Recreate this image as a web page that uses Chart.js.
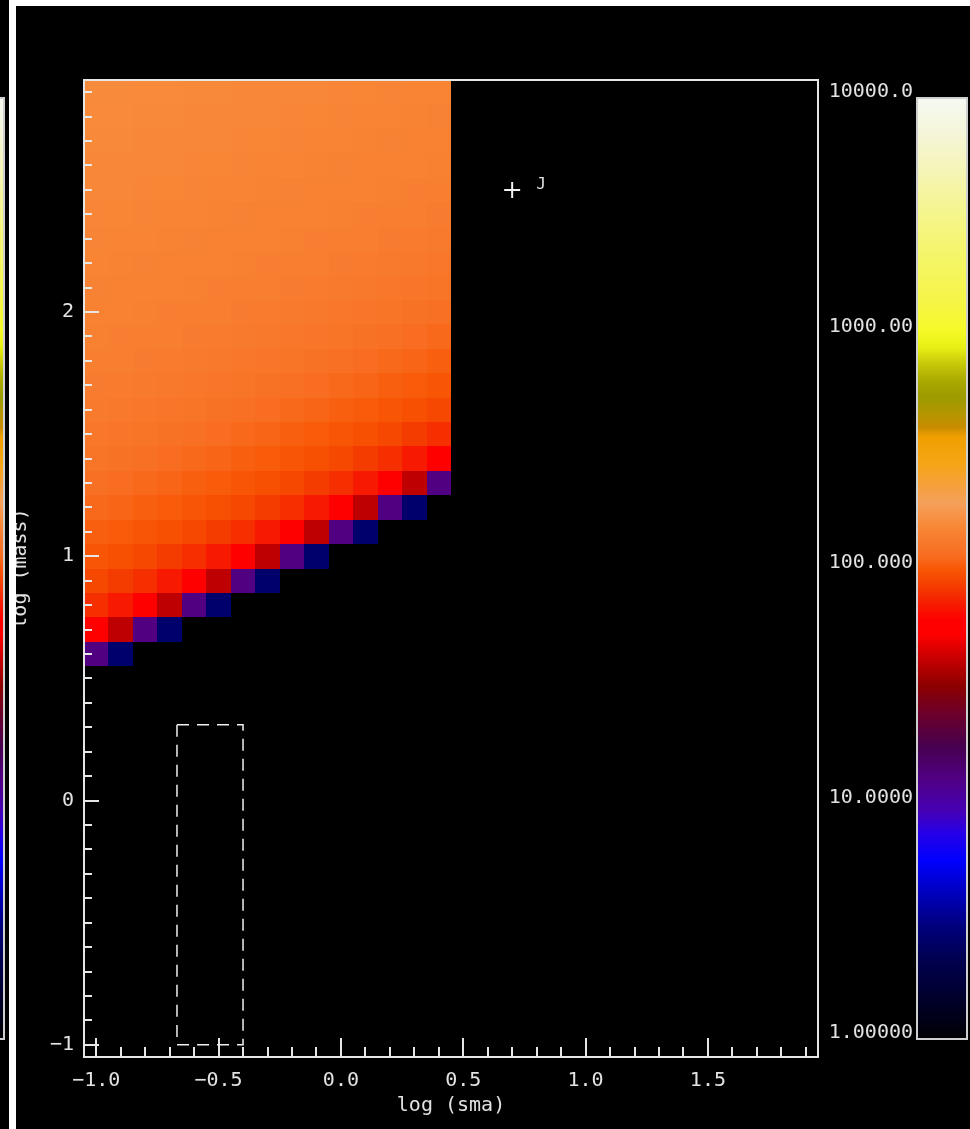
<!DOCTYPE html>
<html>
<head>
<meta charset="utf-8">
<script src="https://cdn.jsdelivr.net/npm/chart.js@4.4.0/dist/chart.umd.min.js"></script>
<style>
  html, body { margin: 0; padding: 0; background: #000; }
  body { width: 970px; height: 1129px; position: relative; overflow: hidden; }
  .capa { position: absolute; left: 0; top: 0; width: 970px; height: 1129px; }
  #franjaIzq { position: absolute; left: 9px; top: 0; width: 7px; height: 1129px; background: #fff; }
  #franjaSup { position: absolute; left: 16px; top: 0; width: 954px; height: 6px; background: #fff; }
</style>
</head>
<body>
<div class="capa"><canvas id="mapaChart"></canvas></div>
<div class="capa"><canvas id="barraChart"></canvas></div>
<div id="franjaIzq"></div>
<div id="franjaSup"></div>
<script>
// centros de celda de la malla
var logSma = [-1.0, -0.9, -0.8, -0.7, -0.6, -0.5, -0.4, -0.3, -0.2, -0.1, 0.0, 0.1, 0.2, 0.3, 0.4];
var logMasa = [2.9, 2.8, 2.7, 2.6, 2.5, 2.4, 2.3, 2.2, 2.1, 2.0, 1.9, 1.8, 1.7, 1.6, 1.5, 1.4, 1.3, 1.2, 1.1, 1.0, 0.9, 0.8, 0.7, 0.6];

// valores por fila (de arriba a abajo), null = sin dato
var densidad = [
    [155, 155, 154, 154, 153, 153, 152, 152, 151, 151, 149, 148, 147, 146, 145],
    [154, 154, 153, 153, 152, 152, 151, 151, 149, 148, 147, 146, 145, 144, 143],
    [153, 153, 152, 152, 151, 151, 149, 148, 147, 146, 145, 144, 143, 142, 142],
    [152, 152, 151, 151, 149, 148, 147, 146, 145, 144, 143, 142, 142, 141, 140],
    [151, 151, 149, 148, 147, 146, 145, 144, 143, 142, 142, 141, 140, 139, 138],
    [149, 148, 147, 146, 145, 144, 143, 142, 142, 141, 140, 139, 138, 137, 135],
    [147, 146, 145, 144, 143, 142, 142, 141, 140, 139, 138, 137, 135, 133, 132],
    [145, 144, 143, 142, 142, 141, 140, 139, 138, 137, 135, 133, 132, 130, 128],
    [143, 142, 142, 141, 140, 139, 138, 137, 135, 133, 132, 130, 128, 125, 123],
    [142, 141, 140, 139, 138, 137, 135, 133, 132, 130, 128, 125, 123, 120, 117],
    [140, 139, 138, 137, 135, 133, 132, 130, 128, 125, 123, 120, 117, 114, 110],
    [138, 137, 135, 133, 132, 130, 128, 125, 123, 120, 117, 114, 110, 108, 105],
    [135, 133, 132, 130, 128, 125, 123, 120, 117, 114, 110, 108, 105, 102, 99],
    [132, 130, 128, 125, 123, 120, 117, 114, 110, 108, 105, 102, 99, 95, 90],
    [128, 125, 123, 120, 117, 114, 110, 108, 105, 102, 99, 95, 90, 84, 78],
    [123, 120, 117, 114, 110, 108, 105, 102, 99, 95, 90, 84, 78, 70, 56],
    [117, 114, 110, 108, 105, 102, 99, 95, 90, 84, 78, 70, 56, 40, 13],
    [110, 108, 105, 102, 99, 95, 90, 84, 78, 70, 56, 40, 13, 2.7, null],
    [105, 102, 99, 95, 90, 84, 78, 70, 56, 40, 13, 2.7, null, null, null],
    [99, 95, 90, 84, 78, 70, 56, 40, 13, 2.7, null, null, null, null, null],
    [90, 84, 78, 70, 56, 40, 13, 2.7, null, null, null, null, null, null, null],
    [78, 70, 56, 40, 13, 2.7, null, null, null, null, null, null, null, null, null],
    [56, 40, 13, 2.7, null, null, null, null, null, null, null, null, null, null, null],
    [13, 2.7, null, null, null, null, null, null, null, null, null, null, null, null, null]
];

var ticksSma = [-1.0, -0.5, 0.0, 0.5, 1.0, 1.5];
var ticksMasa = [-1, 0, 1, 2];
var ticksBarra = [1, 10, 100, 1000, 10000];

var planetas = [{x: 0.70, y: 2.50}];
var nombresPlanetas = ['J'];

var cajaSma = [-0.67, -0.40];
var cajaMasa = [-1.0, 0.31];

// paleta: [log10(valor), r, g, b]
var paleta = [
    [0.00, 0, 0, 0], [0.05, 0, 0, 15], [0.20, 0, 0, 50], [0.34, 0, 0, 80],
    [0.48, 0, 0, 125], [0.62, 0, 0, 190], [0.76, 0, 0, 255], [0.88, 40, 0, 230],
    [0.97, 70, 0, 180], [1.11, 80, 0, 130], [1.24, 70, 0, 80], [1.39, 110, 0, 40],
    [1.50, 140, 0, 0], [1.61, 195, 0, 0], [1.72, 255, 0, 0], [1.78, 255, 0, 0],
    [1.85, 246, 28, 0], [1.90, 245, 50, 0], [1.95, 246, 70, 0], [2.00, 248, 88, 5],
    [2.05, 248, 108, 32], [2.12, 248, 122, 45], [2.18, 248, 136, 55], [2.28, 245, 160, 90],
    [2.33, 245, 160, 70], [2.45, 245, 165, 20], [2.56, 240, 160, 0], [2.60, 200, 140, 0],
    [2.66, 180, 150, 0], [2.73, 155, 155, 0], [2.80, 170, 170, 0], [2.87, 200, 200, 10],
    [2.94, 230, 240, 20], [3.01, 245, 250, 40], [3.13, 245, 245, 70], [3.27, 245, 245, 95],
    [3.41, 245, 245, 120], [3.55, 245, 245, 150], [3.70, 245, 245, 185], [3.84, 245, 245, 215],
    [4.00, 245, 250, 242]
];

var fuente = 'DejaVu Sans Mono';
var colorTexto = '#e2e2e2';

function rgb(p) {
    return 'rgb(' + Math.round(p[1]) + ',' + Math.round(p[2]) + ',' + Math.round(p[3]) + ')';
}

function colorDe(v) {
    var t = Math.log10(v);
    if (t <= paleta[0][0]) return rgb(paleta[0]);
    for (var i = 1; i < paleta.length; i++) {
        if (t <= paleta[i][0]) {
            var a = paleta[i - 1], b = paleta[i];
            var f = (t - a[0]) / (b[0] - a[0]);
            return rgb([t, a[1] + f * (b[1] - a[1]), a[2] + f * (b[2] - a[2]), a[3] + f * (b[3] - a[3])]);
        }
    }
    return rgb(paleta[paleta.length - 1]);
}

function menos(s) {
    return String(s).replace('-', '\u2212');
}

// malla de colores
var pluginMalla = {
    id: 'malla',
    beforeDatasetsDraw: function(chart) {
        var ctx = chart.ctx, xs = chart.scales.x, ys = chart.scales.y;
        var dx = (logSma[1] - logSma[0]) / 2;
        var dy = (logMasa[0] - logMasa[1]) / 2;
        ctx.save();
        densidad.forEach(function(fila, i) {
            fila.forEach(function(v, j) {
                if (v === null) return;
                var x0 = Math.round(xs.getPixelForValue(logSma[j] - dx));
                var x1 = Math.round(xs.getPixelForValue(logSma[j] + dx));
                var y0 = Math.round(ys.getPixelForValue(logMasa[i] + dy));
                var y1 = Math.round(ys.getPixelForValue(logMasa[i] - dy));
                ctx.fillStyle = colorDe(v);
                ctx.fillRect(x0, y0, x1 - x0, y1 - y0);
            });
        });
        ctx.restore();
    }
};

// marco, marcas hacia dentro, caja discontinua y etiqueta
var pluginMarco = {
    id: 'marco',
    afterDatasetsDraw: function(chart) {
        var ctx = chart.ctx, a = chart.chartArea, xs = chart.scales.x, ys = chart.scales.y;
        ctx.save();
        ctx.strokeStyle = '#e6e6e6';
        ctx.lineWidth = 2;
        ctx.strokeRect(a.left, a.top, a.right - a.left, a.bottom - a.top);

        ctx.beginPath();
        for (var n = -10; n <= 19; n++) {
            var px = Math.round(xs.getPixelForValue(n / 10));
            var lx = (n % 5 === 0) ? 19 : 10;
            ctx.moveTo(px, a.bottom);
            ctx.lineTo(px, a.bottom - lx);
        }
        for (var m = -10; m <= 29; m++) {
            var py = Math.round(ys.getPixelForValue(m / 10));
            var ly = (m % 10 === 0) ? 15 : 8;
            ctx.moveTo(a.left, py);
            ctx.lineTo(a.left + ly, py);
        }
        ctx.stroke();

        // caja discontinua
        var bx0 = xs.getPixelForValue(cajaSma[0]), bx1 = xs.getPixelForValue(cajaSma[1]);
        var by0 = ys.getPixelForValue(cajaMasa[1]), by1 = ys.getPixelForValue(cajaMasa[0]);
        ctx.setLineDash([12, 8]);
        ctx.lineWidth = 1.5;
        ctx.strokeStyle = '#f0f0f0';
        ctx.strokeRect(bx0, by0, bx1 - bx0, by1 - by0);
        ctx.setLineDash([]);

        // nombre del planeta
        ctx.fillStyle = colorTexto;
        ctx.font = '16px "' + fuente + '"';
        ctx.textAlign = 'center';
        ctx.textBaseline = 'middle';
        planetas.forEach(function(p, i) {
            ctx.fillText(nombresPlanetas[i], xs.getPixelForValue(p.x) + 29, ys.getPixelForValue(p.y) - 5);
        });
        ctx.restore();
    }
};

var ctxMapa = document.getElementById('mapaChart').getContext('2d');
var chartMapa = new Chart(ctxMapa, {
    type: 'scatter',
    data: {
        datasets: [{
            label: 'Planetas',
            data: planetas,
            pointStyle: 'cross',
            pointRadius: 8,
            pointHoverRadius: 8,
            borderColor: '#f2f2f2',
            borderWidth: 2
        }]
    },
    options: {
        responsive: true,
        maintainAspectRatio: false,
        animation: false,
        events: [],
        layout: { padding: { top: 80, right: 152, bottom: 0, left: 0 } },
        plugins: { legend: { display: false }, tooltip: { enabled: false } },
        scales: {
            x: {
                type: 'linear',
                min: -1.05,
                max: 1.95,
                grid: { display: false, drawTicks: false },
                border: { display: false },
                afterBuildTicks: function(s) { s.ticks = ticksSma.map(function(v) { return {value: v}; }); },
                afterFit: function(s) { s.height = 72; },
                ticks: {
                    color: colorTexto,
                    font: { family: fuente, size: 20 },
                    padding: 12,
                    maxRotation: 0,
                    autoSkip: false,
                    callback: function(v) { return menos(Number(v).toFixed(1)); }
                },
                title: {
                    display: true,
                    text: 'log (sma)',
                    color: colorTexto,
                    font: { family: fuente, size: 20 },
                    padding: { top: 0, bottom: 11 }
                }
            },
            y: {
                type: 'linear',
                min: -1.05,
                max: 2.95,
                grid: { display: false, drawTicks: false },
                border: { display: false },
                afterBuildTicks: function(s) { s.ticks = ticksMasa.map(function(v) { return {value: v}; }); },
                afterFit: function(s) { s.width = 84; },
                ticks: {
                    color: colorTexto,
                    font: { family: fuente, size: 20 },
                    padding: 10,
                    autoSkip: false,
                    callback: function(v) { return menos(v); }
                },
                title: {
                    display: true,
                    text: 'log (mass)',
                    color: colorTexto,
                    font: { family: fuente, size: 20 },
                    padding: { top: 9, bottom: 0 }
                }
            }
        }
    },
    plugins: [pluginMalla, pluginMarco]
});

// barra de colores
var pluginBarra = {
    id: 'barra',
    beforeDatasetsDraw: function(chart) {
        var ctx = chart.ctx, a = chart.chartArea, ys = chart.scales.y;
        var pIni = ys.getPixelForValue(ticksBarra[0]);
        var pFin = ys.getPixelForValue(ticksBarra[ticksBarra.length - 1]);
        var g = ctx.createLinearGradient(0, pIni, 0, pFin);
        paleta.forEach(function(p) {
            var pos = (ys.getPixelForValue(Math.pow(10, p[0])) - pIni) / (pFin - pIni);
            g.addColorStop(Math.min(1, Math.max(0, pos)), rgb(p));
        });
        ctx.save();
        ctx.fillStyle = g;
        ctx.fillRect(a.left, a.top, a.right - a.left, a.bottom - a.top);
        // borde de la barra del panel vecino
        ctx.fillRect(0, a.top, 3, a.bottom - a.top);
        ctx.strokeStyle = '#cfcfcf';
        ctx.lineWidth = 2;
        ctx.strokeRect(a.left, a.top, a.right - a.left, a.bottom - a.top);
        ctx.strokeRect(-5, a.top, 9, a.bottom - a.top);
        ctx.restore();
    }
};

var ctxBarra = document.getElementById('barraChart').getContext('2d');
var chartBarra = new Chart(ctxBarra, {
    type: 'scatter',
    data: { datasets: [] },
    options: {
        responsive: true,
        maintainAspectRatio: false,
        animation: false,
        events: [],
        layout: { padding: { top: 98, right: 3, bottom: 90, left: 817 } },
        plugins: { legend: { display: false }, tooltip: { enabled: false } },
        scales: {
            x: { display: false, min: 0, max: 1 },
            y: {
                type: 'logarithmic',
                position: 'left',
                min: 1,
                max: 10000,
                grid: { display: false, drawTicks: false },
                border: { display: false },
                afterBuildTicks: function(s) { s.ticks = ticksBarra.map(function(v) { return {value: v}; }); },
                afterFit: function(s) { s.width = 100; },
                ticks: {
                    color: colorTexto,
                    font: { family: fuente, size: 20 },
                    padding: 4,
                    labelOffset: -6,
                    autoSkip: false,
                    callback: function(v) { return Number(v).toPrecision(6); }
                }
            }
        }
    },
    plugins: [pluginBarra]
});
</script>
</body>
</html>
